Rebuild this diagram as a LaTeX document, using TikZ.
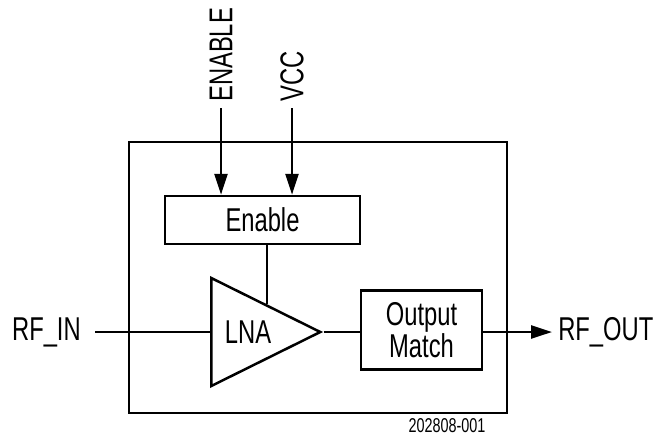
\documentclass[tikz,border=0pt]{standalone}
\usepackage{fontspec}
\setmainfont[FakeStretch=0.72]{Liberation Sans}
\usetikzlibrary{arrows.meta,shapes.geometric}

\begin{document}
\begin{tikzpicture}[
    x=0.5pt,y=-0.5pt,
    font=\fontsize{16.5}{19}\selectfont,
    line width=1.25pt,
    box/.style={draw,minimum height=24pt,minimum width=97.5pt,align=center,inner sep=2pt},
    pin/.style={inner sep=2.5pt},
    >={Triangle[length=10.5pt,width=6.5pt]},
    arr/.style={->}
  ]
  \useasboundingbox (0,0) rectangle (663,435);

  % package outline
  \node[draw,minimum width=189pt,minimum height=135.5pt] (chip) at (318,277.5) {};

  \node[box] (enable) at (262.5,220) {Enable};
  \node[draw,shape=isosceles triangle,isosceles triangle stretches,
        minimum width=54pt,minimum height=54.5pt,inner sep=0pt,
        anchor=lower side] (lna) at (210,332) {};
  \node (lnalabel) at (248,332) {LNA};
  \node[box,minimum width=60.5pt,minimum height=39.5pt,inner sep=1pt] (match) at (421.5,330)
       {Output\\[-3pt]Match};

  % pins
  \node[pin,rotate=90,anchor=west] (enpin)  at (221,108) {ENABLE};
  \node[pin,rotate=90,anchor=west] (vccpin) at (292,108) {VCC};
  \node[pin,inner xsep=6.5pt,anchor=east] (rfin)  at (95,332)  {RF\_IN};
  \node[pin,anchor=west] (rfout) at (552,332) {RF\_OUT};

  \draw[arr] (enpin.west)  -- (enpin.west |- enable.north);
  \draw[arr] (vccpin.west) -- (vccpin.west |- enable.north);
  \draw (rfin.east) -- (lna.lower side);
  \draw (enable.south -| lna.left side) -- (lna.left side);
  \draw (lna.apex) -- (lna.apex -| match.west);
  \draw[arr] (match.east |- lna.apex) -- (rfout.west);

  \node[font=\fontsize{10}{11}\selectfont,inner sep=0pt] (figno) at (447,426) {202808-001};
\end{tikzpicture}
\end{document}
